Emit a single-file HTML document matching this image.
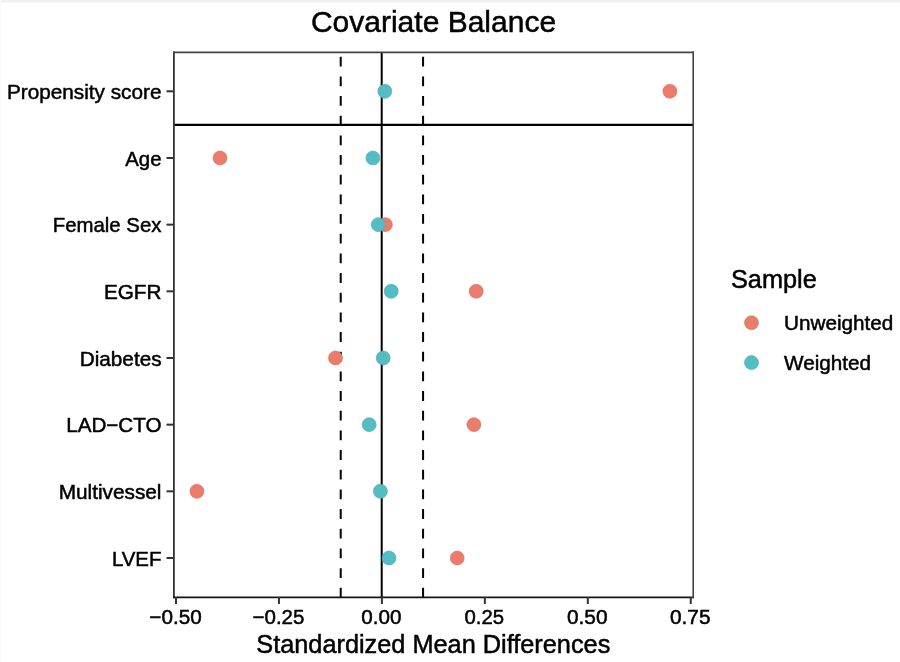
<!DOCTYPE html>
<html><head><meta charset="utf-8"><style>
html,body{margin:0;padding:0;background:#fff;overflow:hidden}
svg{display:block;will-change:transform;filter:blur(0.45px)}
text{font-family:"Liberation Sans",sans-serif;fill:#000;stroke:#000;stroke-width:0.5px}
</style></head><body>
<svg width="900" height="662" viewBox="0 0 900 662">
<rect x="0" y="0" width="900" height="662" fill="#fff"/>
<rect x="0" y="0" width="900" height="2.4" fill="#f0f0f0"/>
<rect x="0" y="0" width="1" height="662" fill="#fafafa"/>
<text x="433.5" y="32" font-size="30" text-anchor="middle">Covariate Balance</text>
<line x1="340.72" y1="597.6" x2="340.72" y2="52" stroke="#000" stroke-width="2" stroke-dasharray="9.8 9.87"/>
<line x1="423.08" y1="597.6" x2="423.08" y2="52" stroke="#000" stroke-width="2" stroke-dasharray="9.8 9.87"/>
<line x1="381.7" y1="597" x2="381.7" y2="52" stroke="#000" stroke-width="2"/>
<line x1="174" y1="124.8" x2="693" y2="124.8" stroke="#000" stroke-width="2.2"/>
<circle cx="669.9" cy="91.30" r="7.0" fill="#EB7B6B" stroke="#DA6E63" stroke-width="0.6"/>
<circle cx="384.8" cy="91.30" r="7.0" fill="#54BDC3" stroke="#4AAAB4" stroke-width="0.6"/>
<circle cx="220" cy="157.97" r="7.0" fill="#EB7B6B" stroke="#DA6E63" stroke-width="0.6"/>
<circle cx="372.9" cy="157.97" r="7.0" fill="#54BDC3" stroke="#4AAAB4" stroke-width="0.6"/>
<circle cx="385.4" cy="224.64" r="7.0" fill="#EB7B6B" stroke="#DA6E63" stroke-width="0.6"/>
<circle cx="378.3" cy="224.64" r="7.0" fill="#54BDC3" stroke="#4AAAB4" stroke-width="0.6"/>
<circle cx="476.2" cy="291.31" r="7.0" fill="#EB7B6B" stroke="#DA6E63" stroke-width="0.6"/>
<circle cx="391.2" cy="291.31" r="7.0" fill="#54BDC3" stroke="#4AAAB4" stroke-width="0.6"/>
<circle cx="335.5" cy="357.98" r="7.0" fill="#EB7B6B" stroke="#DA6E63" stroke-width="0.6"/>
<circle cx="383.2" cy="357.98" r="7.0" fill="#54BDC3" stroke="#4AAAB4" stroke-width="0.6"/>
<circle cx="473.9" cy="424.65" r="7.0" fill="#EB7B6B" stroke="#DA6E63" stroke-width="0.6"/>
<circle cx="369.2" cy="424.65" r="7.0" fill="#54BDC3" stroke="#4AAAB4" stroke-width="0.6"/>
<circle cx="196.9" cy="491.32" r="7.0" fill="#EB7B6B" stroke="#DA6E63" stroke-width="0.6"/>
<circle cx="380.4" cy="491.32" r="7.0" fill="#54BDC3" stroke="#4AAAB4" stroke-width="0.6"/>
<circle cx="457.2" cy="557.99" r="7.0" fill="#EB7B6B" stroke="#DA6E63" stroke-width="0.6"/>
<circle cx="389" cy="557.99" r="7.0" fill="#54BDC3" stroke="#4AAAB4" stroke-width="0.6"/>
<line x1="173.9" y1="51.6" x2="173.9" y2="598.2" stroke="#333" stroke-width="1.8"/>
<line x1="173" y1="597.3" x2="694" y2="597.3" stroke="#151515" stroke-width="1.8"/>
<line x1="173" y1="52.4" x2="694" y2="52.4" stroke="#444" stroke-width="1.6"/>
<line x1="693.2" y1="51.6" x2="693.2" y2="598.2" stroke="#444" stroke-width="1.6"/>
<line x1="166.5" y1="91.30" x2="174" y2="91.30" stroke="#333" stroke-width="2"/>
<text x="161.5" y="99.00" font-size="20.9" text-anchor="end" textLength="154.6" lengthAdjust="spacingAndGlyphs">Propensity score</text>
<line x1="166.5" y1="157.97" x2="174" y2="157.97" stroke="#333" stroke-width="2"/>
<text x="161.5" y="165.67" font-size="20.9" text-anchor="end" textLength="36.2" lengthAdjust="spacingAndGlyphs">Age</text>
<line x1="166.5" y1="224.64" x2="174" y2="224.64" stroke="#333" stroke-width="2"/>
<text x="161.5" y="232.34" font-size="20.9" text-anchor="end" textLength="108.8" lengthAdjust="spacingAndGlyphs">Female Sex</text>
<line x1="166.5" y1="291.31" x2="174" y2="291.31" stroke="#333" stroke-width="2"/>
<text x="161.5" y="299.01" font-size="20.9" text-anchor="end" textLength="57.6" lengthAdjust="spacingAndGlyphs">EGFR</text>
<line x1="166.5" y1="357.98" x2="174" y2="357.98" stroke="#333" stroke-width="2"/>
<text x="161.5" y="365.68" font-size="20.9" text-anchor="end" textLength="81.7" lengthAdjust="spacingAndGlyphs">Diabetes</text>
<line x1="166.5" y1="424.65" x2="174" y2="424.65" stroke="#333" stroke-width="2"/>
<text x="161.5" y="432.35" font-size="20.9" text-anchor="end" textLength="95.3" lengthAdjust="spacingAndGlyphs">LAD−CTO</text>
<line x1="166.5" y1="491.32" x2="174" y2="491.32" stroke="#333" stroke-width="2"/>
<text x="161.5" y="499.02" font-size="20.9" text-anchor="end" textLength="102.8" lengthAdjust="spacingAndGlyphs">Multivessel</text>
<line x1="166.5" y1="557.99" x2="174" y2="557.99" stroke="#333" stroke-width="2"/>
<text x="161.5" y="565.69" font-size="20.9" text-anchor="end" textLength="49.6" lengthAdjust="spacingAndGlyphs">LVEF</text>
<line x1="176.00" y1="597" x2="176.00" y2="604" stroke="#333" stroke-width="2"/>
<text x="175.50" y="624.4" font-size="20.9" text-anchor="middle" textLength="52.4" lengthAdjust="spacingAndGlyphs">−0.50</text>
<line x1="278.95" y1="597" x2="278.95" y2="604" stroke="#333" stroke-width="2"/>
<text x="278.45" y="624.4" font-size="20.9" text-anchor="middle" textLength="51.9" lengthAdjust="spacingAndGlyphs">−0.25</text>
<line x1="381.90" y1="597" x2="381.90" y2="604" stroke="#333" stroke-width="2"/>
<text x="381.40" y="624.4" font-size="20.9" text-anchor="middle" textLength="40.2" lengthAdjust="spacingAndGlyphs">0.00</text>
<line x1="484.85" y1="597" x2="484.85" y2="604" stroke="#333" stroke-width="2"/>
<text x="484.35" y="624.4" font-size="20.9" text-anchor="middle" textLength="39.6" lengthAdjust="spacingAndGlyphs">0.25</text>
<line x1="587.80" y1="597" x2="587.80" y2="604" stroke="#333" stroke-width="2"/>
<text x="587.30" y="624.4" font-size="20.9" text-anchor="middle" textLength="40.67" lengthAdjust="spacingAndGlyphs">0.50</text>
<line x1="690.75" y1="597" x2="690.75" y2="604" stroke="#333" stroke-width="2"/>
<text x="690.25" y="624.4" font-size="20.9" text-anchor="middle" textLength="40.67" lengthAdjust="spacingAndGlyphs">0.75</text>
<text x="433.3" y="652.9" font-size="25.9" text-anchor="middle" textLength="354" lengthAdjust="spacingAndGlyphs">Standardized Mean Differences</text>
<text x="731" y="287.8" font-size="25.3">Sample</text>
<circle cx="751.5" cy="322.8" r="7.0" fill="#EB7B6B" stroke="#DA6E63" stroke-width="0.6"/>
<circle cx="751.5" cy="362.6" r="7.0" fill="#54BDC3" stroke="#4AAAB4" stroke-width="0.6"/>
<text x="784" y="330" font-size="20.7">Unweighted</text>
<text x="784" y="369.9" font-size="20.7">Weighted</text>
</svg>
</body></html>
